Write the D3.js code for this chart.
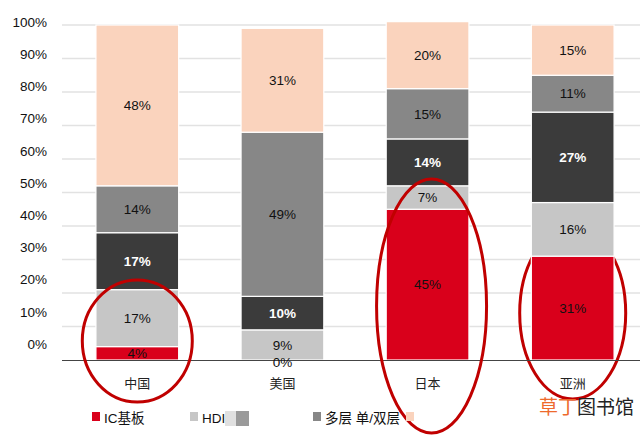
<!DOCTYPE html>
<html><head><meta charset="utf-8">
<script src="https://cdn.jsdelivr.net/npm/d3@7"></script>
<style>body{margin:0;background:#fff}svg{display:block;font-family:"Liberation Sans",Arial,"Noto Sans CJK SC",sans-serif}</style>
</head><body><svg id="c" width="640" height="442"></svg>
<script>
const categories = ["中国", "美国", "日本", "亚洲"];
const seriesNames = ["IC基板", "HDI", "软板", "多层", "单/双层"];
const icValues    = [4, 0, 45, 31];
const hdiValues   = [17, 9, 7, 16];
const darkValues  = [17, 10, 14, 27];
const midValues   = [14, 49, 15, 11];
const peachValues = [48, 31, 20, 15];
const yTicks = [0, 10, 20, 30, 40, 50, 60, 70, 80, 90, 100];
const colors = ["#d9001b", "#c6c6c6", "#3b3b3b", "#878787", "#fad3bd"];
const labelColors = ["#111", "#111", "#fff", "#111", "#111"];

const svg = d3.select("#c");
const x = d3.scaleBand().domain(categories).range([64, 646]).paddingInner(0.43).paddingOuter(0.22);
const y = d3.scaleLinear().domain([0, 100]).range([360, 25]);
const yLab = d3.scaleLinear().domain([0, 100]).range([344, 22]);

svg.append("g").selectAll("line").data(yTicks.filter(d => d > 0)).join("line")
  .attr("x1", 62).attr("x2", 640).attr("y1", d => y(d)).attr("y2", d => y(d))
  .attr("stroke", "#e2e2e2").attr("stroke-width", 1.5);

svg.append("g").selectAll("text").data(yTicks).join("text")
  .attr("x", 47).attr("y", d => yLab(d)).attr("dy", "0.35em").attr("text-anchor", "end")
  .attr("font-size", 13.5).attr("fill", "#111").text(d => d + "%");

const ell = [
  {c: "中国", dx: 0, cy: 341, rx: 55, ry: 61, top: true},
  {c: "日本", dx: 4, cy: 306, rx: 55, ry: 127, top: true},
  {c: "亚洲", dx: 0, cy: 313, rx: 53, ry: 86, top: false}
];
function drawEll(list) {
  svg.append("g").selectAll("ellipse").data(list).join("ellipse")
    .attr("cx", d => x(d.c) + x.bandwidth() / 2 + d.dx).attr("cy", d => d.cy)
    .attr("rx", d => d.rx).attr("ry", d => d.ry)
    .attr("fill", "none").attr("stroke", "#c00000").attr("stroke-width", 3);
}
drawEll(ell.filter(d => !d.top));

const table = categories.map((c, i) => ({cat: c, s0: icValues[i], s1: hdiValues[i], s2: darkValues[i], s3: midValues[i], s4: peachValues[i]}));
const stack = d3.stack().keys(["s0", "s1", "s2", "s3", "s4"])(table);

const layers = svg.append("g").selectAll("g").data(stack).join("g")
  .attr("fill", (d, i) => colors[i]);
layers.selectAll("rect").data(d => d).join("rect")
  .attr("x", d => x(d.data.cat)).attr("width", x.bandwidth())
  .attr("y", d => y(d[1])).attr("height", d => y(d[0]) - y(d[1]))
  .attr("stroke", "#fff").attr("stroke-width", 1.2);

svg.append("line").attr("x1", 62).attr("x2", 640).attr("y1", 360.5).attr("y2", 360.5)
  .attr("stroke", "#444").attr("stroke-width", 1.2);

stack.forEach((layer, i) => {
  svg.append("g").selectAll("text").data(layer).join("text")
    .attr("x", d => x(d.data.cat) + x.bandwidth() / 2)
    .attr("y", d => (y(d[0]) + y(d[1])) / 2 + (d[1] - d[0] === 0 ? 2 : 0))
    .attr("dy", "0.35em").attr("text-anchor", "middle").attr("font-size", 13.5)
    .attr("font-weight", i === 2 ? "bold" : "normal")
    .attr("fill", labelColors[i]).text(d => (d[1] - d[0]) + "%");
});

drawEll(ell.filter(d => d.top));

svg.append("g").selectAll("text").data(categories).join("text")
  .attr("x", d => x(d) + x.bandwidth() / 2).attr("y", 383).attr("dy", "0.35em")
  .attr("text-anchor", "middle").attr("font-size", 13).attr("fill", "#222").text(d => d);

const leg = svg.append("g");
const legItems = [
  {x: 92, c: colors[0], t: "IC基板"},
  {x: 190, c: colors[1], t: "HDI"},
  {x: 313, c: colors[3], t: "多层 单/双层"},
  {x: 406, c: colors[4], t: ""}
];
leg.selectAll("rect").data(legItems).join("rect")
  .attr("x", d => d.x).attr("y", 412).attr("width", 8).attr("height", 9).attr("fill", d => d.c);
leg.selectAll("text").data(legItems).join("text")
  .attr("x", d => d.x + 12).attr("y", 418).attr("dy", "0.35em").attr("font-size", 13.5)
  .attr("fill", "#111").text(d => d.t);
leg.append("rect").attr("x", 225).attr("y", 411).attr("width", 11).attr("height", 15).attr("fill", "#e0e0e0");
leg.append("rect").attr("x", 236).attr("y", 411).attr("width", 13).attr("height", 15).attr("fill", "#9a9a9a");

const wm = svg.append("text").attr("x", 539).attr("y", 407).attr("dy", "0.35em").attr("font-size", 19)
  .attr("font-family", "Noto Sans CJK SC, sans-serif");
wm.append("tspan").attr("fill", "#ee6a2c").text("草丁");
wm.append("tspan").attr("fill", "#222").text("图书馆");
</script></body></html>
